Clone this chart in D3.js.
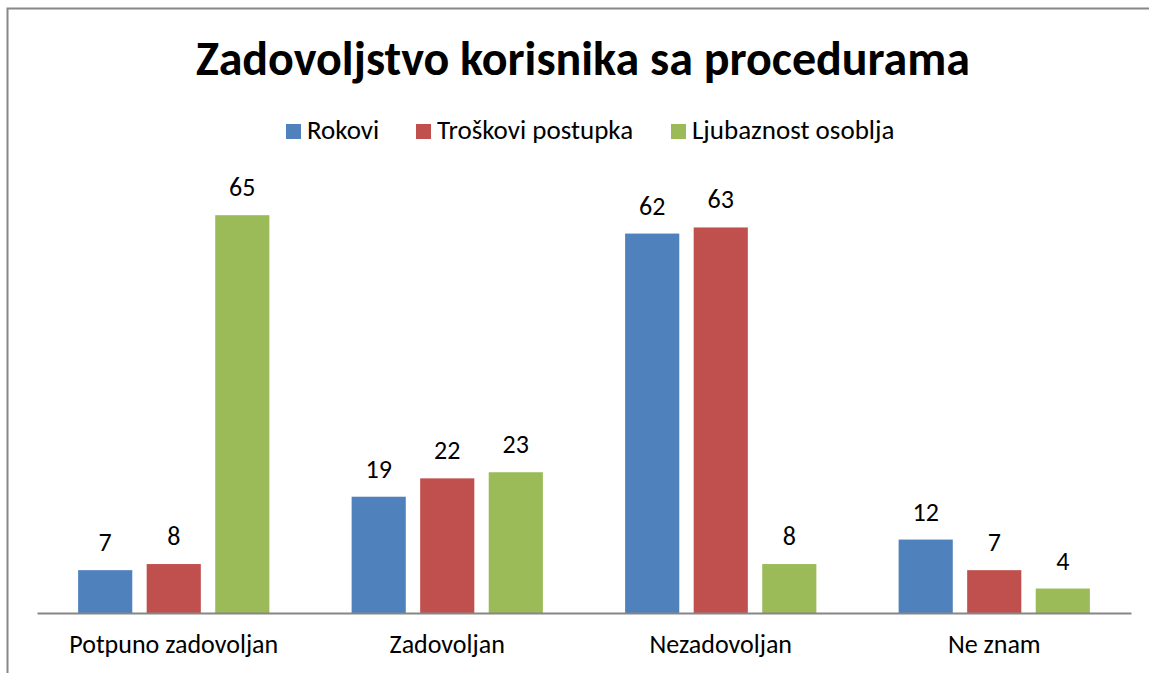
<!DOCTYPE html>
<html>
<head>
<meta charset="utf-8">
<script src="https://cdnjs.cloudflare.com/ajax/libs/d3/7.8.5/d3.min.js"></script>
<style>
  body { margin: 0; background: #fff; }
  svg text { font-family: Carlito, Lato, "Open Sans", sans-serif; fill: #000; }
</style>
</head>
<body>
<svg id="chart" width="1149" height="673"></svg>
<script>
// Chart data
const categories = ["Potpuno zadovoljan", "Zadovoljan", "Nezadovoljan", "Ne znam"];
const seriesNames = ["Rokovi", "Troškovi postupka", "Ljubaznost osoblja"];
const seriesColors = ["#4F81BD", "#C0504D", "#9BBB59"];
const rokovi = [7, 19, 62, 12];
const troskovi = [8, 22, 63, 7];
const ljubaznost = [65, 23, 8, 4];
const seriesValues = [rokovi, troskovi, ljubaznost];

const svg = d3.select("#chart");

// Outer frame (clipped by the window at the right and bottom)
svg.append("rect")
    .attr("x", 7.5).attr("y", 8.5)
    .attr("width", 1160).attr("height", 680)
    .attr("fill", "none")
    .attr("stroke", "#888")
    .attr("stroke-width", 2);

// Title
svg.append("text")
    .attr("x", 583).attr("y", 75)
    .attr("text-anchor", "middle")
    .style("font-size", "48px")
    .style("font-weight", "bold")
    .text("Zadovoljstvo korisnika sa procedurama");

// Scales
let x = d3.scaleBand().domain(categories).range([37, 1131]);
let xs = d3.scaleBand().domain(d3.range(seriesNames.length))
    .range([0, x.bandwidth()]).paddingInner(0.21).paddingOuter(0.6);
let y = d3.scaleLinear().domain([0, 70]).range([613, 184.6]);

// Bars and value labels
seriesValues.forEach(function(vals, s) {
    let g = svg.append("g");
    g.selectAll("rect")
        .data(vals)
        .enter()
        .append("rect")
        .attr("x", (d, i) => x(categories[i]) + xs(s))
        .attr("y", d => y(d))
        .attr("width", xs.bandwidth())
        .attr("height", d => y(0) - y(d))
        .attr("fill", seriesColors[s]);

    g.selectAll("text")
        .data(vals)
        .enter()
        .append("text")
        .attr("x", (d, i) => x(categories[i]) + xs(s) + xs.bandwidth() / 2)
        .attr("y", d => y(d) - 19)
        .attr("text-anchor", "middle")
        .style("font-size", "26px")
        .text(d => d);
});

// Category axis
let xAxis = d3.axisBottom(x).tickSize(0).tickPadding(0);
let axisG = svg.append("g")
    .attr("transform", "translate(0," + y(0) + ")")
    .call(xAxis);
axisG.select(".domain").attr("stroke", "#868686").attr("stroke-width", 2);
axisG.selectAll(".tick text")
    .attr("dy", 0)
    .attr("y", 40)
    .style("font-size", "26px")
    .style("font-family", "Carlito, Lato, 'Open Sans', sans-serif");

// Legend
let legendX = [286, 416, 671];
let legend = svg.append("g");
seriesNames.forEach(function(name, i) {
    legend.append("rect")
        .attr("x", legendX[i]).attr("y", 124)
        .attr("width", 15).attr("height", 15)
        .attr("fill", seriesColors[i]);
    legend.append("text")
        .attr("x", legendX[i] + 21).attr("y", 139)
        .style("font-size", "27px")
        .text(name);
});
</script>
</body>
</html>
